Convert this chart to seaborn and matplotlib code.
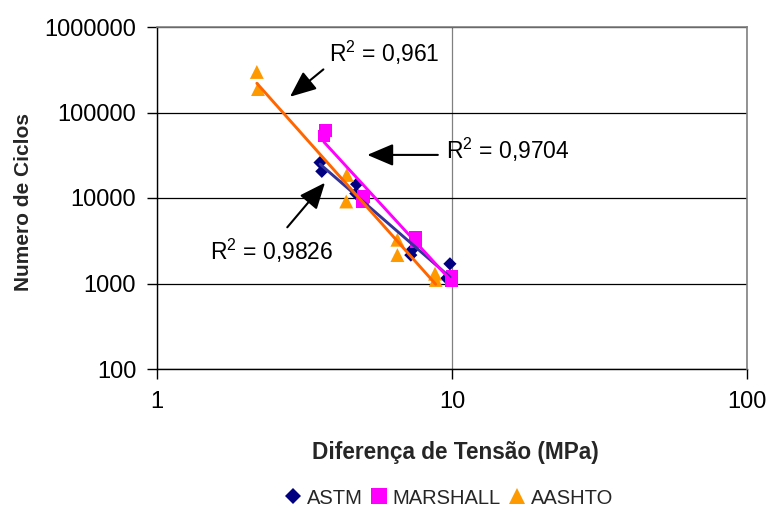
import numpy as np
import pandas as pd
import matplotlib
matplotlib.use("Agg")
import matplotlib.pyplot as plt
from matplotlib.ticker import FixedLocator, FuncFormatter, NullLocator
from matplotlib.lines import Line2D
import seaborn as sns

# Fatigue test results: stress range (MPa) vs. number of cycles, per method
astm_x = [3.57, 3.62, 4.75, 4.72, 7.30, 7.25, 9.84, 9.60]
astm_n = [26000, 20500, 14500, 11300, 2450, 2150, 1700, 1150]
marshall_x = [3.72, 3.68, 5.00, 4.98, 7.50, 7.55, 10.0, 9.95]
marshall_n = [62000, 53000, 10300, 9100, 3500, 3050, 1200, 1080]
aashto_x = [2.18, 2.20, 4.40, 4.38, 6.53, 6.53, 8.76, 8.80]
aashto_n = [298000, 188000, 18600, 9100, 3250, 2150, 1300, 1100]

series_names = ["ASTM", "MARSHALL", "AASHTO"]
r2_labels = ["0,9826", "0,9704", "0,961"]
x_ticks = [1, 10, 100]
y_ticks = [100, 1000, 10000, 100000, 1000000]

df = pd.concat([
    pd.DataFrame({"Tensao": astm_x, "Ciclos": astm_n, "Ensaio": "ASTM"}),
    pd.DataFrame({"Tensao": marshall_x, "Ciclos": marshall_n, "Ensaio": "MARSHALL"}),
    pd.DataFrame({"Tensao": aashto_x, "Ciclos": aashto_n, "Ensaio": "AASHTO"}),
], ignore_index=True)

# Power-law trendlines (linear fit in log-log space)
fits = []
for name in series_names:
    sub = df[df["Ensaio"] == name]
    lx, ly = np.log10(sub["Tensao"]), np.log10(sub["Ciclos"])
    b, a = np.polyfit(lx, ly, 1)
    xs = np.logspace(lx.min(), lx.max(), 60)
    fits.append(pd.DataFrame({"Tensao": xs, "Ciclos": 10 ** (a + b * np.log10(xs)), "Ensaio": name}))
fit_df = pd.concat(fits, ignore_index=True)

marker_colors = {"ASTM": "#000080", "MARSHALL": "#FF00FF", "AASHTO": "#FF9900"}
line_colors = {"ASTM": "#333399", "MARSHALL": "#FF00FF", "AASHTO": "#FF6600"}
markers = {"ASTM": "D", "MARSHALL": "s", "AASHTO": "^"}
sizes = {"ASTM": 45, "MARSHALL": 85, "AASHTO": 100}

sns.set_style("white")
plt.rcParams["font.family"] = ["Liberation Sans", "DejaVu Sans"]
plt.rcParams["mathtext.fontset"] = "custom"
plt.rcParams["mathtext.rm"] = "Liberation Sans"

fig = plt.figure(figsize=(7.69, 5.09), dpi=100)
ax = fig.add_axes([157 / 769, 1 - 369 / 509, 590 / 769, 342 / 509])

for name in series_names:
    sns.scatterplot(data=df[df["Ensaio"] == name], x="Tensao", y="Ciclos",
                    marker=markers[name], color=marker_colors[name],
                    s=sizes[name], edgecolor="none", linewidth=0,
                    ax=ax, legend=False, zorder=3)

sns.lineplot(data=fit_df, x="Tensao", y="Ciclos", hue="Ensaio",
             palette=line_colors, linewidth=2.1, ax=ax, legend=False,
             zorder=4, estimator=None, sort=False)

ax.set_xscale("log")
ax.set_yscale("log")
ax.set_xlim(1, 100)
ax.set_ylim(100, 1000000)
ax.xaxis.set_major_locator(FixedLocator(x_ticks))
ax.yaxis.set_major_locator(FixedLocator(y_ticks))
ax.xaxis.set_minor_locator(NullLocator())
ax.yaxis.set_minor_locator(NullLocator())
fmt = FuncFormatter(lambda v, p: f"{int(round(v))}")
ax.xaxis.set_major_formatter(fmt)
ax.yaxis.set_major_formatter(fmt)

ax.tick_params(axis="both", which="major", direction="out", length=7, width=1,
               color="black", labelsize=17, labelcolor="black")
ax.tick_params(axis="y", pad=8, left=True)
ax.tick_params(axis="x", pad=9, bottom=True)

ax.grid(False)
ax.yaxis.grid(True, color="black", linewidth=0.9, zorder=0)
ax.xaxis.grid(True, color="#808080", linewidth=0.9, zorder=0)
ax.set_axisbelow(True)
for side in ["left", "bottom"]:
    ax.spines[side].set_color("black")
    ax.spines[side].set_linewidth(1.0)
for side in ["top", "right"]:
    ax.spines[side].set_color("#808080")
    ax.spines[side].set_linewidth(1.2)
    ax.spines[side].set_zorder(5)

ax.set_xlabel("Diferença de Tensão (MPa)", fontsize=16.3, fontweight="bold", va="center")
ax.set_ylabel("Numero de Ciclos", fontsize=15, fontweight="bold", va="center")
ax.xaxis.set_label_coords(0.505, -0.243)
ax.yaxis.set_label_coords(-0.227, 0.488)

# R² annotations with arrows pointing to each trendline
text_pos = {"AASHTO": (0.292, 0.897), "MARSHALL": (0.490, 0.613), "ASTM": (0.0898, 0.319)}
arrows = {
    "AASHTO": ((0.2254, 0.796), (0.282, 0.876)),
    "MARSHALL": ((0.3564, 0.626), (0.476, 0.626)),
    "ASTM": ((0.2847, 0.5447), (0.2208, 0.4143)),
}
for name, r2 in zip(series_names, r2_labels):
    tx, ty = text_pos[name]
    ax.text(tx, ty, r"$\mathregular{R^2}$ = " + r2, transform=ax.transAxes,
            ha="left", va="baseline", fontsize=16.5, color="black", zorder=6)
    tip, tail = arrows[name]
    ax.annotate("", xy=tip, xytext=tail, xycoords="axes fraction",
                textcoords="axes fraction",
                arrowprops=dict(arrowstyle="-|>,head_length=1.6,head_width=0.68",
                                mutation_scale=10, lw=1.5, color="black",
                                shrinkA=0, shrinkB=0), zorder=6)

handles = [Line2D([], [], linestyle="none", marker=markers[n], color=marker_colors[n],
                  markeredgewidth=0, markersize=(8.5 if n == "ASTM" else 11))
           for n in series_names]
fig.legend(handles, series_names, loc="center", bbox_to_anchor=(449 / 769, 1 - 498 / 509),
           ncol=3, frameon=False, fontsize=14.5, handlelength=0.8, handletextpad=0.3,
           columnspacing=0.4, borderpad=0, borderaxespad=0)

fig.savefig("out.png", dpi=100)
